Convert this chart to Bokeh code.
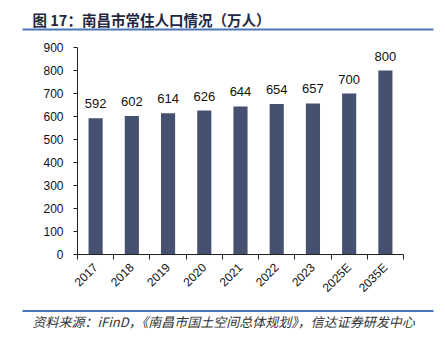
import math
from bokeh.plotting import figure
from bokeh.models import (Range1d, FixedTicker, Label, BoxAnnotation, ColumnDataSource,
                          LabelSet, LinearAxis)
from bokeh.core.properties import value
from bokeh.embed import file_html
from bokeh.resources import INLINE

years = ["2017", "2018", "2019", "2020", "2021", "2022", "2023", "2025E", "2035E"]
population = [592, 602, 614, 626, 644, 654, 657, 700, 800]
y_ticks = [0, 100, 200, 300, 400, 500, 600, 700, 800, 900]
y_max = 900
title_text = "图 17：南昌市常住人口情况（万人）"
source_text = "资料来源：iFinD，《南昌市国土空间总体规划》，信达证券研发中心"

W, H = 445, 338
# plot area in canvas pixels (from top-left)
PL, PR, PT, PB = 77, 403, 47, 254
RULE = "#4a76b8"
SANS = "Liberation Sans"
CJK = "Noto Sans CJK SC"
n = len(years)

kx = (PR - PL) / n
ky = (PB - PT) / y_max
x_range = Range1d(-PL / kx, n + (W - PR) / kx)
y_range = Range1d(-(H - PB) / ky, y_max + PT / ky)

p = figure(width=W, height=H, output_backend="svg", toolbar_location=None,
           x_range=x_range, y_range=y_range, x_axis_type=None, y_axis_type=None,
           min_border=0, min_border_left=0, min_border_right=0,
           min_border_top=0, min_border_bottom=0)
p.outline_line_color = None
p.background_fill_color = "white"
p.border_fill_color = "white"

xs = [i + 0.5 for i in range(n)]
src = ColumnDataSource(dict(x=xs, y=population, lab=[str(v) for v in population]))

p.vbar(x="x", top="y", width=0.39, bottom=0, source=src,
       fill_color="#465071", line_color=None)

p.add_layout(LabelSet(x="x", y="y", text="lab", source=src, text_align="center",
                      text_baseline="alphabetic", y_offset=10,
                      text_font=value(SANS), text_font_size="13px",
                      text_color="#111111"))

ya = LinearAxis(fixed_location=0, bounds=(0, y_max), ticker=FixedTicker(ticks=y_ticks))
ya.axis_line_color = "#222222"
ya.major_tick_line_color = "#222222"
ya.major_tick_out = 4
ya.major_tick_in = 0
ya.minor_tick_line_color = None
ya.major_label_standoff = 10
ya.major_label_text_font = SANS
ya.major_label_text_font_size = "12px"
ya.major_label_text_color = "#111111"
p.add_layout(ya, "left")

xa = LinearAxis(fixed_location=0, bounds=(0, n),
                ticker=FixedTicker(ticks=xs, minor_ticks=list(range(n + 1))))
xa.major_label_overrides = {x: y for x, y in zip(xs, years)}
xa.major_tick_line_color = None
xa.major_tick_out = 0
xa.major_tick_in = 0
xa.minor_tick_line_color = "#222222"
xa.minor_tick_out = 5
xa.minor_tick_in = 0
xa.axis_line_color = "#222222"
xa.major_label_orientation = math.pi / 4
xa.major_label_standoff = 6
xa.major_label_text_font = SANS
xa.major_label_text_font_size = "12px"
xa.major_label_text_color = "#111111"
p.add_layout(xa, "below")

# header and footer rules (screen units: y from the bottom of the canvas)
for top_px, bot_px in [(28, 30), (309.5, 311.5)]:
    p.add_layout(BoxAnnotation(left=22, right=433, top=H - top_px, bottom=H - bot_px,
                               left_units="screen", right_units="screen",
                               top_units="screen", bottom_units="screen",
                               fill_color=RULE, fill_alpha=1, line_color=None))

p.add_layout(Label(x=32, y=H - 18.5, x_units="screen", y_units="screen",
                   text=title_text, text_font=CJK, text_font_size="14.5px",
                   text_font_style="bold", text_color="#1f2742",
                   text_baseline="middle", text_align="left"))
p.add_layout(Label(x=32, y=H - 321, x_units="screen", y_units="screen",
                   text=source_text, text_font=CJK, text_font_size="13px",
                   text_font_style="italic", text_color="#333333",
                   text_baseline="middle", text_align="left"))

open("out.html", "w").write(file_html(p, INLINE))
